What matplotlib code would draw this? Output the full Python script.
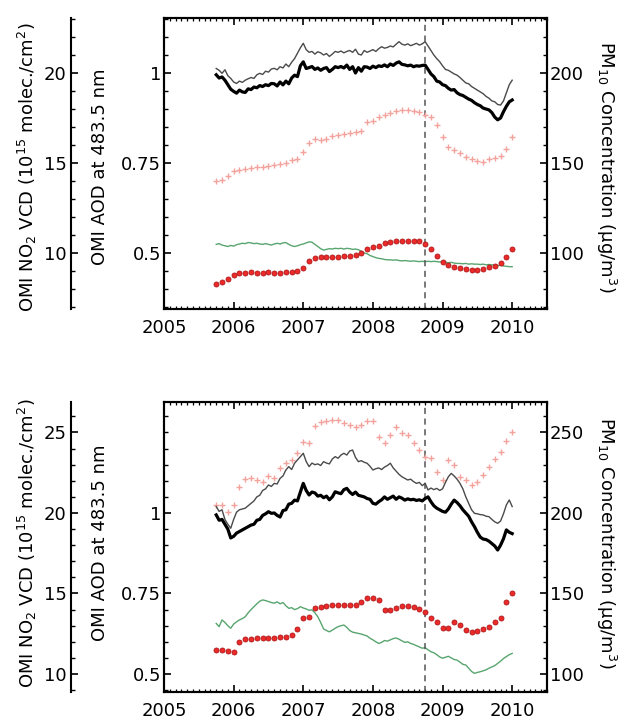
import matplotlib
matplotlib.use("Agg")
import matplotlib.pyplot as plt
from matplotlib.ticker import MultipleLocator, FixedLocator, FixedFormatter
import numpy as np


# time grids: semi-monthly for the OMI lines, monthly for the PM10 markers
LINE_START, LINE_STEP, LINE_N = 2005.75, 1 / 24, 103
MON_START, MON_STEP, MON_N = 2005.75, 1 / 12, 52
EVENT_YEAR = 2008.75

# ---- upper panel ----
# NO2 VCD (10^15 molec/cm2), thick black and thin grey
top_no2_a = [19.90, 19.72, 19.78, 19.60, 19.35, 19.10, 18.98, 18.88, 19.05, 18.95,
             18.92, 19.12, 19.08, 19.22, 19.18, 19.30, 19.25, 19.35, 19.30, 19.42,
             19.40, 19.28, 19.50, 19.34, 19.55, 19.40, 19.72, 19.88, 19.80, 20.40,
             20.62, 20.25, 20.30, 20.36, 20.20, 20.28, 20.15, 20.25, 20.30, 20.08,
             20.20, 20.35, 20.30, 20.36, 20.28, 20.44, 20.20, 20.35, 20.00, 20.30,
             20.10, 20.35, 20.33, 20.25, 20.38, 20.30, 20.40, 20.36, 20.45, 20.35,
             20.50, 20.42, 20.55, 20.62, 20.48, 20.45, 20.40, 20.44, 20.35, 20.40,
             20.38, 20.42, 20.44, 20.20, 19.95, 19.80, 19.55, 19.50, 19.35, 19.30,
             19.15, 19.05, 19.08, 18.90, 18.80, 18.75, 18.65, 18.55, 18.48, 18.35,
             18.25, 18.18, 18.05, 18.00, 17.95, 17.80, 17.55, 17.40, 17.50, 17.85,
             18.15, 18.40, 18.50]
top_no2_b = [20.25, 20.15, 19.98, 20.18, 19.85, 19.70, 19.50, 19.42, 19.55, 19.48,
             19.60, 19.68, 19.75, 19.70, 19.90, 19.98, 19.92, 20.10, 20.05, 20.22,
             20.26, 20.18, 20.35, 20.28, 20.50, 20.35, 20.60, 20.80, 21.10, 21.40,
             21.65, 21.30, 21.15, 21.20, 21.05, 21.18, 21.12, 21.00, 21.08, 20.92,
             21.05, 21.20, 21.15, 21.22, 21.12, 21.20, 21.25, 21.15, 21.32, 21.05,
             21.00, 21.25, 21.15, 21.22, 21.30, 21.20, 21.35, 21.46, 21.38, 21.42,
             21.50, 21.45, 21.60, 21.74, 21.60, 21.55, 21.62, 21.52, 21.58, 21.65,
             21.55, 21.62, 21.74, 21.50, 21.25, 21.00, 20.80, 20.63, 20.40, 20.20,
             20.15, 20.05, 19.95, 19.88, 19.75, 19.60, 19.45, 19.40, 19.25, 19.15,
             19.05, 18.95, 18.85, 18.70, 18.60, 18.45, 18.40, 18.25, 18.22, 18.45,
             18.90, 19.35, 19.60]
# AOD at 483.5 nm
top_aod = [0.524, 0.526, 0.522, 0.520, 0.518, 0.521, 0.519, 0.523, 0.525, 0.527,
           0.526, 0.529, 0.528, 0.526, 0.527, 0.525, 0.524, 0.526, 0.524, 0.522,
           0.525, 0.527, 0.525, 0.528, 0.529, 0.524, 0.520, 0.518, 0.520, 0.523,
           0.525, 0.528, 0.531, 0.530, 0.524, 0.518, 0.512, 0.508, 0.510, 0.512,
           0.511, 0.513, 0.512, 0.513, 0.511, 0.513, 0.512, 0.510, 0.511, 0.509,
           0.505, 0.500, 0.498, 0.493, 0.490, 0.487, 0.485, 0.484, 0.482, 0.481,
           0.481, 0.480, 0.481, 0.479, 0.478, 0.479, 0.478, 0.477, 0.478, 0.477,
           0.476, 0.477, 0.476, 0.477, 0.476, 0.477, 0.476, 0.475, 0.476, 0.474,
           0.473, 0.474, 0.472, 0.471, 0.471, 0.470, 0.471, 0.469, 0.470, 0.469,
           0.469, 0.468, 0.469, 0.467, 0.468, 0.467, 0.466, 0.465, 0.466, 0.464,
           0.463, 0.462, 0.462]
# PM10 (ug/m3), red markers and light red crosses
top_pm_a = [83.0, 84.0, 85.5, 88.0, 89.0, 89.0, 89.2, 89.0, 89.1, 89.2,
            89.0, 89.1, 89.2, 89.3, 89.8, 91.5, 95.6, 97.1, 97.5, 97.8,
            98.0, 98.0, 98.2, 98.5, 99.0, 99.8, 102.1, 103.5, 104.0, 105.7,
            106.2, 106.7, 106.8, 106.8, 106.7, 106.4, 105.2, 102.0, 98.3, 95.2,
            93.3, 92.4, 91.5, 91.0, 90.8, 90.8, 91.3, 92.0, 93.0, 94.3,
            98.0, 102.2]
top_pm_b = [140.0, 140.5, 143.0, 145.5, 146.0, 146.5, 147.0, 147.5, 148.0, 148.5,
            149.0, 149.5, 150.0, 151.5, 152.0, 156.0, 161.0, 163.5, 162.5, 163.5,
            165.0, 165.5, 166.0, 166.5, 167.0, 167.8, 172.5, 173.5, 175.5, 176.5,
            177.6, 179.0, 179.4, 179.4, 179.0, 178.3, 176.5, 175.5, 171.0, 164.5,
            159.0, 157.2, 155.5, 153.5, 152.0, 151.0, 150.7, 152.0, 153.0, 153.9,
            158.0, 164.5]

# ---- lower panel ----
bot_no2_a = [19.88, 19.55, 19.60, 19.30, 19.00, 18.45, 18.55, 18.75, 18.85, 18.95,
             19.05, 19.15, 19.25, 19.30, 19.55, 19.60, 19.85, 19.95, 20.08, 19.98,
             20.00, 19.85, 19.75, 20.15, 20.20, 20.55, 20.60, 20.80, 20.75, 21.30,
             21.84, 21.40, 21.12, 21.30, 21.25, 21.05, 21.10, 20.95, 21.05, 20.82,
             21.00, 21.32, 21.25, 21.20, 21.45, 21.53, 21.30, 21.15, 21.30, 21.10,
             21.05, 21.00, 20.90, 20.85, 20.60, 20.55, 20.70, 20.82, 21.00, 20.85,
             20.95, 21.05, 20.85, 21.00, 20.92, 20.80, 20.88, 20.82, 20.85, 20.78,
             20.82, 20.75, 20.90, 21.00, 20.70, 20.45, 20.30, 20.20, 20.10, 20.05,
             20.25, 20.55, 20.80, 20.65, 20.45, 20.20, 20.00, 19.80, 19.45, 19.15,
             18.80, 18.50, 18.38, 18.35, 18.25, 18.10, 17.95, 17.70, 18.00, 18.40,
             18.95, 18.80, 18.72]
bot_no2_b = [20.40, 20.10, 20.20, 19.60, 19.30, 19.05, 19.60, 20.05, 20.20, 20.25,
             20.30, 20.45, 20.60, 20.75, 21.00, 21.10, 21.40, 21.50, 21.74, 21.65,
             21.84, 21.80, 22.15, 22.30, 22.67, 22.88, 22.70, 23.09, 23.30, 23.50,
             23.71, 23.20, 22.88, 23.10, 23.00, 23.05, 22.95, 23.19, 23.10, 23.05,
             23.35, 23.50, 23.40, 23.60, 23.71, 23.60, 23.85, 23.91, 23.45, 23.19,
             23.25, 23.15, 23.09, 22.90, 22.67, 22.75, 22.80, 22.70, 22.85, 22.95,
             23.09, 22.80, 22.60, 22.40, 22.25, 22.15, 22.05, 22.10, 21.95, 21.84,
             21.90, 21.70, 21.84, 21.43, 21.55, 21.45, 21.53, 21.40, 21.50, 21.90,
             22.25, 22.46, 22.30, 22.10, 21.84, 21.50, 21.01, 20.60, 20.20, 19.98,
             19.95, 19.90, 19.88, 19.80, 19.77, 19.60, 19.45, 19.36, 19.50, 19.95,
             20.50, 20.81, 20.40]
bot_aod = [0.657, 0.647, 0.668, 0.660, 0.650, 0.642, 0.655, 0.662, 0.668, 0.672,
           0.678, 0.690, 0.700, 0.709, 0.718, 0.726, 0.730, 0.728, 0.725, 0.722,
           0.720, 0.724, 0.718, 0.722, 0.712, 0.704, 0.706, 0.700, 0.703, 0.709,
           0.705, 0.702, 0.698, 0.699, 0.690, 0.678, 0.660, 0.640, 0.635, 0.631,
           0.636, 0.642, 0.647, 0.650, 0.652, 0.645, 0.635, 0.630, 0.628, 0.626,
           0.624, 0.621, 0.618, 0.611, 0.606, 0.600, 0.595, 0.598, 0.604, 0.602,
           0.606, 0.610, 0.612, 0.608, 0.603, 0.598, 0.600, 0.595, 0.592, 0.588,
           0.584, 0.580, 0.582, 0.575, 0.569, 0.566, 0.560, 0.553, 0.549, 0.552,
           0.555, 0.550, 0.545, 0.543, 0.537, 0.530, 0.528, 0.518, 0.508, 0.502,
           0.505, 0.507, 0.510, 0.513, 0.518, 0.522, 0.526, 0.533, 0.540, 0.548,
           0.554, 0.560, 0.564]
bot_pm_a = [114.9, 114.9, 114.5, 113.9, 120.1, 121.5, 122.0, 122.2, 122.3, 122.5,
            122.6, 122.8, 123.0, 124.0, 128.0, 135.0, 135.2, 140.8, 141.8, 142.5,
            142.9, 142.8, 142.9, 142.7, 143.0, 144.9, 147.0, 147.2, 146.0, 139.8,
            139.8, 141.2, 142.0, 142.2, 141.5, 140.2, 138.7, 134.6, 132.5, 128.5,
            128.4, 132.5, 130.4, 127.3, 126.3, 126.5, 128.0, 129.4, 132.1, 134.6,
            144.9, 150.1]
bot_pm_b = [205.0, 205.0, 200.8, 205.0, 216.3, 221.1, 221.5, 220.5, 219.5, 223.0,
            221.5, 227.8, 230.9, 232.9, 237.1, 244.3, 243.3, 254.0, 256.7, 257.3,
            257.5, 257.8, 255.7, 254.6, 253.6, 254.6, 257.3, 257.3, 247.4, 243.7,
            248.4, 253.6, 249.5, 248.4, 243.3, 239.1, 235.0, 234.0, 225.6, 220.5,
            232.9, 229.8, 222.6, 220.5, 217.4, 219.4, 223.6, 228.8, 233.3, 238.0,
            245.0, 250.5]

years = [2005, 2006, 2007, 2008, 2009, 2010]
aod_ticks = [0.5, 0.75, 1.0]
aod_labels = ["0.5", "0.75", "1"]

FS = 13
LW_FRAME = 1.5


def draw_panel(fig, rect, aod_lim, no2_ticks, pm_ticks, no2_a, no2_b, aod, pm_a, pm_b):
    t_line = LINE_START + LINE_STEP * np.arange(LINE_N)
    t_mon = MON_START + MON_STEP * np.arange(MON_N)

    ax = fig.add_axes(rect)
    ax_pm = ax.twinx()
    ax_no2 = ax.twinx()

    # AOD axis (inner left)
    ax.plot(t_line, aod, color="#58a56f", lw=1.0)
    ax.axvline(EVENT_YEAR, color="#555555", lw=1.1, ls=(0, (4, 3)))
    ax.set_xlim(2005, 2010.5)
    ax.set_ylim(*aod_lim)
    ax.xaxis.set_major_locator(FixedLocator(years))
    ax.xaxis.set_major_formatter(FixedFormatter([str(y) for y in years]))
    ax.xaxis.set_minor_locator(MultipleLocator(1 / 12))
    ax.yaxis.set_major_locator(FixedLocator(aod_ticks))
    ax.yaxis.set_major_formatter(FixedFormatter(aod_labels))
    ax.yaxis.set_minor_locator(MultipleLocator(0.05))
    ax.tick_params(axis="x", which="both", top=True, direction="in")
    ax.tick_params(axis="x", which="major", length=5, width=1.2, labelsize=FS, pad=7)
    ax.tick_params(axis="x", which="minor", length=2.5, width=0.9)
    ax.tick_params(axis="y", which="both", right=False, direction="in")
    ax.tick_params(axis="y", which="major", length=5, width=1.2, labelsize=FS, pad=2)
    ax.tick_params(axis="y", which="minor", length=2.8, width=1.0)
    for sp in ax.spines.values():
        sp.set_linewidth(LW_FRAME)

    # PM10 axis (right)
    ax_pm.plot(t_mon, pm_b, ls="none", marker="+", ms=4.5, mew=1.0, color="#f4a39c")
    ax_pm.plot(t_mon, pm_a, ls="none", marker="o", ms=3.6, mfc="#ec2a2a", mec="#b01818", mew=0.6)
    ax_pm.set_ylim(aod_lim[0] * 200, aod_lim[1] * 200)
    ax_pm.yaxis.set_major_locator(FixedLocator(pm_ticks))
    ax_pm.yaxis.set_minor_locator(MultipleLocator(10))
    ax_pm.tick_params(axis="y", which="major", direction="in", length=5, width=1.2, labelsize=FS, pad=2)
    ax_pm.tick_params(axis="y", which="minor", direction="in", length=2.8, width=1.0)
    for sp in ax_pm.spines.values():
        sp.set_linewidth(LW_FRAME)

    # NO2 axis (detached spine far left)
    ax_no2.plot(t_line, no2_b, color="#4a4a4a", lw=1.0)
    ax_no2.plot(t_line, no2_a, color="black", lw=2.3)
    ax_no2.set_ylim(aod_lim[0] * 20, aod_lim[1] * 20)
    ax_no2.spines["left"].set_position(("axes", -0.243))
    ax_no2.spines["left"].set_visible(True)
    ax_no2.spines["left"].set_linewidth(LW_FRAME)
    for side in ["right", "top", "bottom"]:
        ax_no2.spines[side].set_visible(False)
    ax_no2.yaxis.set_ticks_position("left")
    ax_no2.yaxis.set_major_locator(FixedLocator(no2_ticks))
    ax_no2.yaxis.set_minor_locator(MultipleLocator(1))
    ax_no2.tick_params(axis="y", which="major", direction="in", length=5, width=1.2, labelsize=FS, pad=3)
    ax_no2.tick_params(axis="y", which="minor", direction="in", length=2.8, width=1.0)
    return ax


def main():
    fig = plt.figure(figsize=(6.19, 7.24), dpi=100)
    plt.rcParams["font.family"] = ["DejaVu Sans"]

    w = 383 / 619
    draw_panel(fig, [164 / 619, 1 - 309 / 724, w, 291 / 724], (0.3444, 1.1528),
               [10, 15, 20], [100, 150, 200],
               top_no2_a, top_no2_b, top_aod, top_pm_a, top_pm_b)
    draw_panel(fig, [164 / 619, 1 - 692 / 724, w, 290 / 724], (0.4441, 1.3447),
               [10, 15, 20, 25], [100, 150, 200, 250],
               bot_no2_a, bot_no2_b, bot_aod, bot_pm_a, bot_pm_b)

    no2_label = r"OMI NO$_2$ VCD (10$^{15}$ molec./cm$^2$)"
    aod_label = "OMI AOD at 483.5 nm"
    pm_label = "PM$_{10}$ Concentration (\u03bcg/m$^3$)"
    for yc in [1 - 167 / 724, 1 - 543 / 724]:
        fig.text(27 / 619, yc, no2_label, rotation=90, ha="center", va="center", fontsize=FS)
        fig.text(100 / 619, yc, aod_label, rotation=90, ha="center", va="center", fontsize=FS)
        fig.text(606 / 619, yc, pm_label, rotation=270, ha="center", va="center", fontsize=FS)

    fig.savefig("out.png", dpi=100, facecolor="white")
    plt.close(fig)


if __name__ == "__main__":
    main()
